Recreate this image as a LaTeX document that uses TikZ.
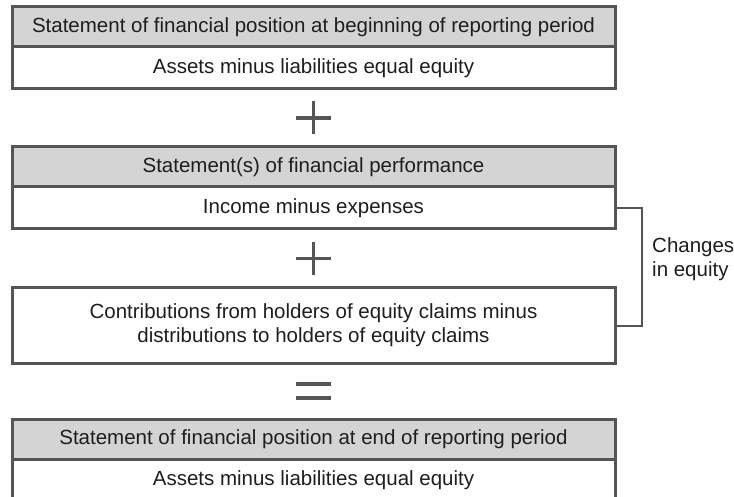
\documentclass[tikz,border=0pt]{standalone}
\usepackage{fontspec}
\setmainfont{Liberation Sans}
\usepackage{tikz}
\usetikzlibrary{calc}
\usetikzlibrary{positioning}
\definecolor{boxline}{HTML}{555555}
\definecolor{headfill}{HTML}{D4D4D4}
\definecolor{txt}{HTML}{1E1E1E}
\tikzstyle{every node}=[font=\fontsize{20.5}{24}\selectfont, text=txt]
\tikzstyle{headbox}=[draw=boxline, fill=headfill, line width=3pt, minimum width=603pt, minimum height=40pt, inner sep=0pt, outer sep=0pt]
\tikzstyle{bodybox}=[headbox, fill=white, minimum height=42pt, align=center]
\tikzstyle{signline}=[draw=boxline, line width=3.2pt]
\tikzstyle{bracket}=[draw=boxline, line width=2pt]

\begin{document}
\begin{tikzpicture}[x=1pt, y=-1pt]
    \useasboundingbox (0,0) rectangle (734,497);

    \node [headbox] (startHead) at (313.5,27) {Statement of financial position at beginning of reporting period};
    \node [bodybox, below=0pt of startHead] (startBody) {Assets minus liabilities equal equity};

    \node [headbox, below=58pt of startBody] (perfHead) {Statement(s) of financial performance};
    \node [bodybox, below=0pt of perfHead] (perfBody) {Income minus expenses};

    \node [bodybox, minimum height=75pt, below=59pt of perfBody] (contrib) {Contributions from holders of equity claims minus\\distributions to holders of equity claims};

    \node [headbox, below=56pt of contrib] (endHead) {Statement of financial position at end of reporting period};
    \node [bodybox, below=0pt of endHead] (endBody) {Assets minus liabilities equal equity};

    % plus, plus, equals
    \coordinate (plusA) at ($(startBody.south)!0.5!(perfHead.north)$);
    \coordinate (plusB) at ($(perfBody.south)!0.5!(contrib.north)$);
    \coordinate (equals) at ($(contrib.south)!0.5!(endHead.north)$);

    \draw [signline] ([yshift=16.5pt]plusA) -- ([yshift=-16.5pt]plusA);
    \draw [signline] ([xshift=-17.5pt]plusA) -- ([xshift=17.5pt]plusA);
    \draw [signline] ([yshift=16.5pt]plusB) -- ([yshift=-16.5pt]plusB);
    \draw [signline] ([xshift=-17.5pt]plusB) -- ([xshift=17.5pt]plusB);
    \draw [signline, line width=4pt] ([xshift=-17.5pt, yshift=7pt]equals) -- ([xshift=17.5pt, yshift=7pt]equals);
    \draw [signline, line width=4pt] ([xshift=-17.5pt, yshift=-7pt]equals) -- ([xshift=17.5pt, yshift=-7pt]equals);

    % changes in equity
    \draw [bracket] (perfBody.east) -- ++(27,0) coordinate (bend) |- (contrib.east);
    \node [anchor=west, align=left, inner sep=0pt] (changes) at ([xshift=10pt, yshift=8pt]$(bend)!0.5!(bend |- contrib.east)$) {Changes\\in equity};
\end{tikzpicture}
\end{document}
